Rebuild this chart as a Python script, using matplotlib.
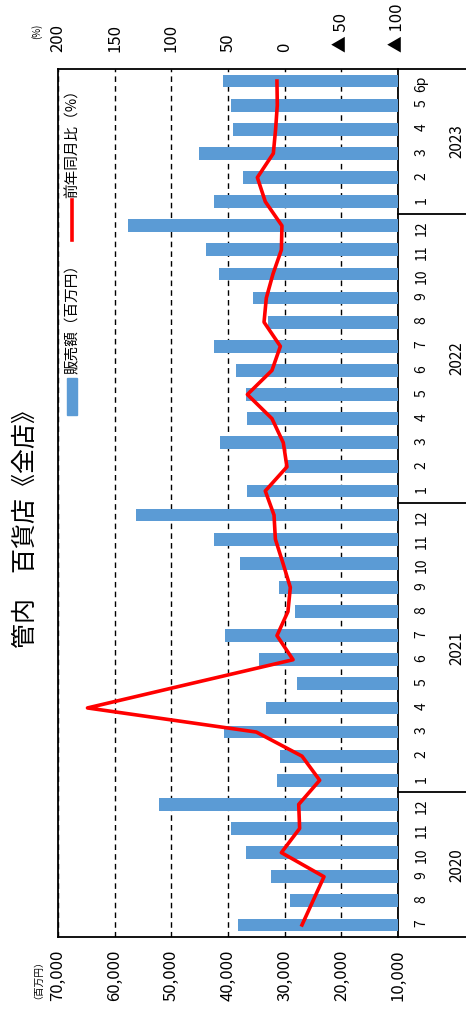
import numpy as np
import matplotlib.pyplot as plt
from matplotlib.patches import Rectangle
from matplotlib.lines import Line2D
from matplotlib.ticker import FuncFormatter

plt.rcParams['font.family'] = ['Noto Sans CJK JP', 'DejaVu Sans']

# 2020年7月～2023年6月（6月は速報）
months = ['7', '8', '9', '10', '11', '12',
          '1', '2', '3', '4', '5', '6', '7', '8', '9', '10', '11', '12',
          '1', '2', '3', '4', '5', '6', '7', '8', '9', '10', '11', '12',
          '1', '2', '3', '4', '5', '6p']
years = ['2020', '2021', '2022', '2023']
year_pos = [2.5, 11.5, 23.5, 32.5]
year_breaks = [5.5, 17.5, 29.5]

# 販売額（百万円）
sales = [38200, 29100, 32500, 36900, 39400, 52100,
         31400, 30800, 40700, 33300, 27800, 34600, 40500, 28100, 31000, 37800, 42400, 56300,
         36600, 29900, 41400, 36600, 36800, 38600, 42400, 32900, 35600, 41500, 43800, 57600,
         42400, 37300, 45100, 39100, 39400, 40900]
# 前年同月比（%）
yoy = [-15.3, -25.0, -34.7, 2.9, -13.2, -12.4,
       -30.9, -15.3, 25.0, 174.0, 83.6, -7.4, 6.8, -2.9, -5.0, 1.5, 8.2, 9.4,
       17.1, -2.0, 1.2, 11.2, 32.9, 11.2, 3.8, 18.2, 16.2, 10.3, 2.9, 2.4,
       17.1, 24.1, 10.0, 8.0, 6.5, 6.8]

idx = np.arange(len(months))

fig = plt.figure(figsize=(4.66, 10.18), dpi=100)
ax = fig.add_axes([58/466, 81/1018, 340/466, 868/1018])

ax.barh(idx, sales, height=0.53, color='#5B9BD5', zorder=3)
ax.set_xlim(70000, 10000)
ax.set_ylim(-0.5, 35.5)
ax.set_xticks([70000, 60000, 50000, 40000, 30000, 20000, 10000])
ax.xaxis.set_major_formatter(FuncFormatter(lambda v, p: f'{int(v):,}'))
ax.grid(axis='x', color='black', linestyle=(0, (4, 3)), linewidth=1.0, zorder=0)
ax.tick_params(axis='x', length=0, pad=9, labelsize=12, labelrotation=90)

ax.set_yticks(idx, months)
ax.tick_params(axis='y', left=False, right=True, labelleft=False, labelright=True,
               length=0, pad=12, labelsize=10, labelrotation=90)
for sp in ax.spines.values():
    sp.set_linewidth(1.3)

# 前年同月比は上側の軸
ax2 = ax.twiny()
ax2.plot(yoy, idx, color='#FF0000', linewidth=2.6, zorder=5)
ax2.set_xlim(200, -100)
pct_ticks = [200, 150, 100, 50, 0, -50, -100]
ax2.set_xticks(pct_ticks, [f'▲ {-t}' if t < 0 else str(t) for t in pct_ticks])
ax2.tick_params(axis='x', length=0, pad=12, labelsize=12, labelrotation=90)
for sp in ax2.spines.values():
    sp.set_visible(False)

# 年の区切り線と年ラベル
tr = ax.get_yaxis_transform()
for yb in [-0.5, 35.5] + year_breaks:
    ax.plot([1, 1.2], [yb, yb], transform=tr, color='black', linewidth=1.3, clip_on=False)
for yp, yl in zip(year_pos, years):
    ax.text(1.1735, yp, yl, transform=tr, rotation=90, ha='center', va='center', fontsize=11)

# 凡例（縦書き）
fig.add_artist(Rectangle((67/466, 1 - 415/1018), 10/466, 37/1018,
                         transform=fig.transFigure, color='#5B9BD5'))
fig.text(73/466, 1 - 374/1018, '販売額（百万円）', rotation=90, ha='center', va='bottom', fontsize=10.5)
fig.add_artist(Line2D([72/466, 72/466], [1 - 240/1018, 1 - 200/1018],
                      transform=fig.transFigure, color='#FF0000', linewidth=2.6))
fig.text(73/466, 1 - 198/1018, '前年同月比（%）', rotation=90, ha='center', va='bottom', fontsize=10.5)

fig.text(26/466, 1 - 523/1018, '管内　百貨店《全店》', rotation=90, ha='center', va='center', fontsize=18)
fig.text(33/466, 1 - 975/1018, '（百万円）', rotation=90, ha='center', va='center', fontsize=7)
fig.text(37/466, 1 - 31/1018, '(%)', rotation=90, ha='center', va='center', fontsize=7)

fig.savefig('out.png', dpi=100)
